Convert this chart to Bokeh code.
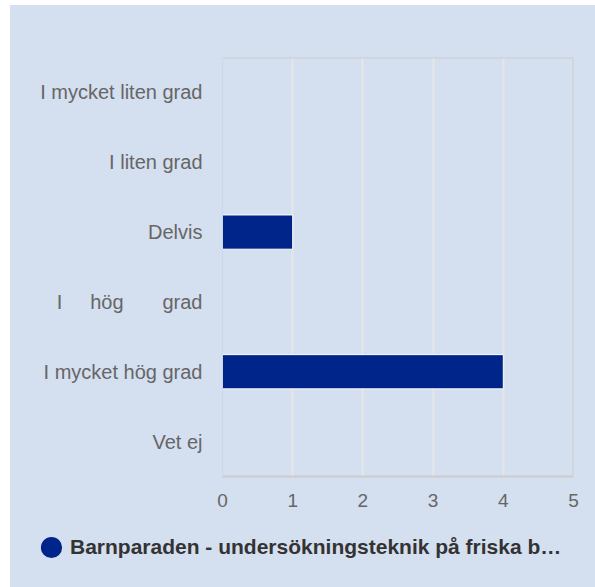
from bokeh.plotting import figure
from bokeh.layouts import column
from bokeh.models import (FactorRange, Range1d, FixedTicker, Span, Legend,
                          LegendItem, ColumnDataSource)
from bokeh.embed import file_html
from bokeh.resources import INLINE

# ---- data ----
NB = "\u00a0"
categories = ["I mycket liten grad", "I liten grad", "Delvis",
              "I" + NB * 5 + "hög" + NB * 7 + "grad",
              "I mycket hög grad", "Vet ej"]
values = [0, 0, 1, 0, 4, 0]
x_ticks = [0, 1, 2, 3, 4, 5]
series_name = "Barnparaden - undersökningsteknik på friska b…"

BG = "#d4dff0"
BAR = "#00258a"
FONT = "Liberation Sans"

bar_cats = [c for c, v in zip(categories, values) if v > 0]
bar_vals = [v for v in values if v > 0]
src = ColumnDataSource(data=dict(cat=bar_cats, val=bar_vals))

p = figure(width=585, height=510,
           y_range=FactorRange(factors=categories[::-1]),
           x_range=Range1d(x_ticks[0], x_ticks[-1]),
           output_backend="svg", toolbar_location=None,
           background_fill_color=BG, border_fill_color=BG,
           min_border_left=212, min_border_right=22,
           min_border_top=52, min_border_bottom=39)
p.outline_line_color = None
p.frame_align = False

# grid
p.ygrid.grid_line_color = None
p.xgrid.ticker = FixedTicker(ticks=x_ticks[1:-1])
p.xgrid.grid_line_color = "#e6e6e6"
p.xgrid.grid_line_width = 2

# frame lines
p.add_layout(Span(location=x_ticks[0], dimension="height",
                  line_color="#c6d1e4", line_width=1))
p.add_layout(Span(location=x_ticks[-1], dimension="height",
                  line_color="#cccccc", line_width=2))
p.add_layout(Span(location=len(categories), dimension="width",
                  line_color="#cccccc", line_width=2))

# bars
p.hbar(y="cat", right="val", left=0, height=0.49, source=src,
       fill_color=BAR, line_color="white", line_width=1)

# axes
xa = p.xaxis[0]
xa.ticker = FixedTicker(ticks=x_ticks)
xa.axis_line_color = "#cccccc"
xa.axis_line_width = 2
xa.major_tick_line_color = None
xa.minor_tick_line_color = None
xa.major_label_text_font = FONT
xa.major_label_text_font_size = "19px"
xa.major_label_text_color = "#666666"
xa.major_label_standoff = 11

ya = p.yaxis[0]
ya.axis_line_color = None
ya.major_tick_line_color = None
ya.minor_tick_line_color = None
ya.major_label_text_font = FONT
ya.major_label_text_font_size = "20px"
ya.major_label_text_color = "#666666"
ya.major_label_standoff = 14

# ---- legend strip ----
lg = figure(width=585, height=72, x_range=Range1d(10, 20), y_range=Range1d(10, 20),
            output_backend="svg", toolbar_location=None,
            background_fill_color=BG, border_fill_color=BG,
            min_border=0, outline_line_color=None)
lg.frame_align = False
lg.axis.visible = False
lg.grid.visible = False
dot = lg.scatter(x="val", y="val", source=src, size=0,
                 fill_color=BAR, line_color=BAR, line_width=6)
legend = Legend(items=[LegendItem(label=series_name, renderers=[dot])],
                location=(22, 21),
                glyph_width=38, glyph_height=38, label_standoff=0,
                padding=0, margin=0, spacing=0,
                border_line_color=None, background_fill_alpha=0,
                label_text_font=FONT, label_text_font_size="21px",
                label_text_font_style="bold", label_text_color="#333333")
lg.add_layout(legend, "center")

layout = column(p, lg, spacing=0, margin=(5, 0, 0, 10),
                styles={"background-color": BG})

open("out.html", "w").write(file_html(layout, INLINE))
